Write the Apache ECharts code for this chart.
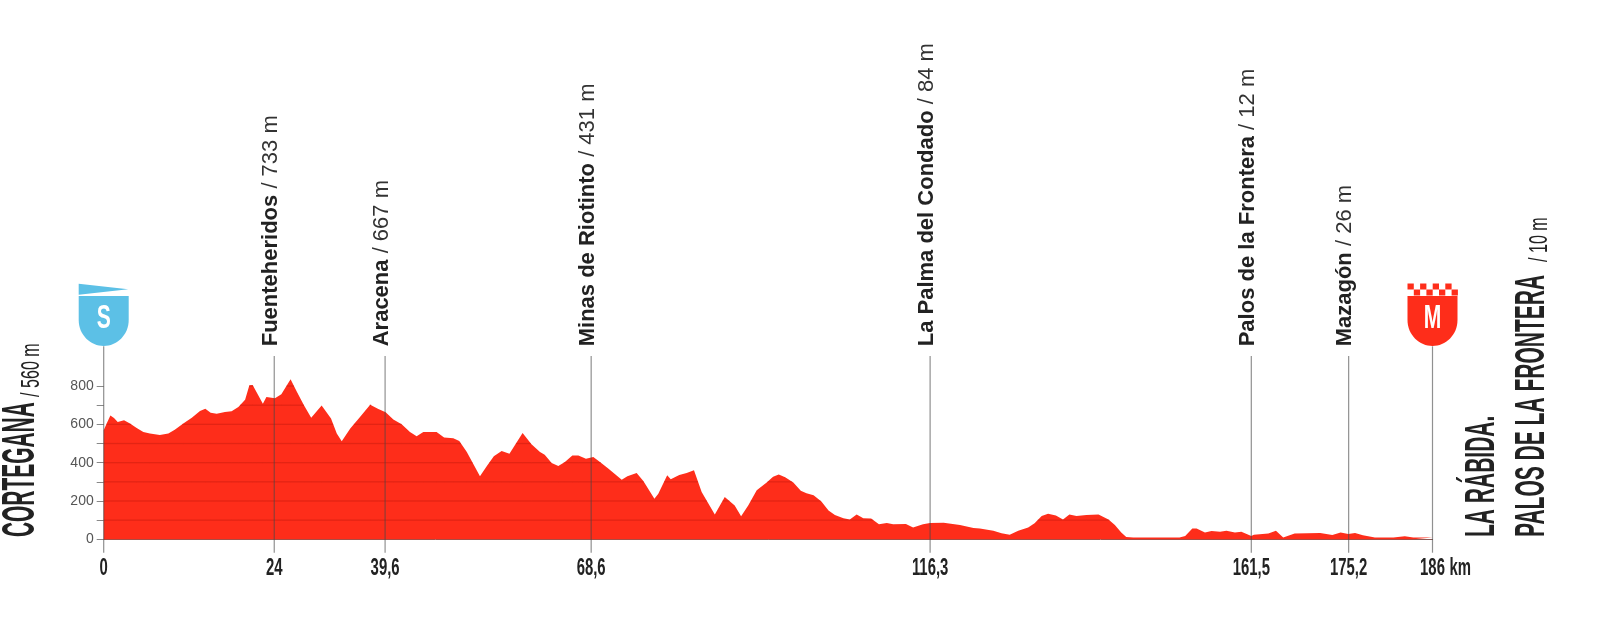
<!DOCTYPE html>
<html><head><meta charset="utf-8">
<style>html,body{margin:0;padding:0;background:#fff}#c{width:1600px;height:631px}</style>
<script src="https://cdn.jsdelivr.net/npm/echarts@6/dist/echarts.min.js"></script>
</head><body><div id="c"></div>
<script>
const profileKm=[0,.42,.94,1.45,1.97,2.86,3.7,4.64,5.58,6.5,7.9,9.1,10,11.2,12.4,13.55,14.3,15.05,15.9,17.07,18,18.95,19.9,20.5,20.96,21.5,22.4,22.9,24.1,25,26.3,27.2,28.2,29.2,30.67,31.99,32.8,33.5,34.7,36.07,37.5,38.65,39.68,40.76,41.93,43.1,44.04,44.98,46.85,47.9,49.2,50.04,51.1,52.95,53.9,54.9,56,57.1,58.95,60.2,61.4,62.06,63.04,63.98,64.9,65.95,66.8,67.87,68.9,69.84,71,72.9,73.7,75,75.94,77.5,78.05,79.3,79.8,81,82.04,83.07,84.15,86,87.4,88.8,89.7,90.7,91.9,93.3,94.2,95,95.9,97.05,98.1,98.9,99.9,101,102,102.9,104.1,105,105.96,106.9,108,109.1,110.2,111.1,112.9,113.9,115.3,116.3,118.2,120.5,122.4,123.3,125.2,126.35,127.5,128.7,130.1,131,132,132.9,134,135,135.9,136.9,138.3,140,141.4,142.3,143.2,143.9,144.9,151.4,152.2,153.2,153.8,154.98,155.9,157.1,158,159.2,160.1,161.5,161.87,163.9,164.97,165.99,167.6,171.2,172.9,174.07,175.15,176.1,177.2,178.9,181.5,183.1,184.3,187];
const profileElev=[569,604,646,633,612,621,604,581,560,552,545,552,572,604,635,670,682,661,656,665,668,691,729,804,806,769,708,743,736,757,835,769,699,635,699,630,552,512,578,639,703,680,663,625,600,560,538,560,560,531,527,513,456,329,381,433,461,447,555,496,456,442,398,383,404,438,438,421,430,404,369,311,329,346,304,212,238,334,313,336,346,360,247,130,221,177,120,177,256,296,327,338,324,296,254,240,230,197,150,127,110,104,129,110,108,78,85,78,80,61,78,85,87,75,59,57,45,31,24,45,61,84,122,134,124,104,129,122,127,129,104,75,35,12,9,9,17,57,57,35,43,40,45,35,40,17,24,30,45,10,30,33,23,35,28,33,21,9,9,16,10,9];
const tickKm=[0,24,39.6,68.6,116.3,161.5,175.2,187];
const tickLabels=['0','24','39,6','68,6','116,3','161,5','175,2','186'];
const distanceUnit='km';
const placeNames=['Fuenteheridos','Aracena','Minas de Riotinto','La Palma del Condado','Palos de la Frontera','Mazagón'];
const placeHeights=['733 m','667 m','431 m','84 m','12 m','26 m'];
const placeKm=[24,39.6,68.6,116.3,161.5,175.2];
const yTicks=[0,100,200,300,400,500,600,700,800];
const yLabels=[0,200,400,600,800];
const bandLevels=[100,200,300,400,500,600,700,800];
const startName='CORTEGANA', startHeight='/ 560 m';
const finishLine1='LA RÁBIDA.', finishLine2='PALOS DE LA FRONTERA', finishHeight='/ 10 m';
const startLetter='S', finishLetter='M';

const RED='#fe2d1a', BLUE='#5cc0e6', INK='#222222';
const profile=profileKm.map((k,i)=>[k,profileElev[i]]);
const FF='"Liberation Sans",Arial,sans-serif';

function bandsRender(params,api){
  const kids=[];
  bandLevels.forEach(L=>{
    for(let i=0;i<profile.length-1;i++){
      const a=profile[i],b=profile[i+1];
      if(a[1]<L&&b[1]<L)continue;
      let ka=a[0],kb=b[0];
      if(a[1]<L)ka=a[0]+(L-a[1])/(b[1]-a[1])*(b[0]-a[0]);
      if(b[1]<L)kb=a[0]+(L-a[1])/(b[1]-a[1])*(b[0]-a[0]);
      const p=api.coord([ka,L]),q=api.coord([kb,L]);
      kids.push({type:'line',shape:{x1:p[0],y1:p[1],x2:q[0],y2:q[1]},style:{stroke:'rgba(170,20,10,.32)',lineWidth:1.3}});
    }
  });
  return {type:'group',children:kids,silent:true};
}
function poleRender(params,api){
  const k=api.value(0),isEnd=api.value(1)===1;
  const p=api.coord([k,0]);
  return {type:'line',shape:{x1:p[0],y1:p[1]+(isEnd?-193:-183.3),x2:p[0],y2:p[1]+13.4},
    style:{stroke:'rgba(70,70,70,.6)',lineWidth:1.2},silent:true};
}
function tickLabelRender(params,api){
  const i=params.dataIndex,p=api.coord([tickKm[i],0]);
  const kids=[{type:'text',x:p[0],y:p[1]+29.5,scaleX:.62,style:{text:tickLabels[i],font:'bold 24px '+FF,fill:INK,align:'center',verticalAlign:'middle'}}];
  if(i===tickKm.length-1)kids.push({type:'text',x:p[0]+17,y:p[1]+29.5,scaleX:.62,style:{text:distanceUnit,font:'bold 24px '+FF,fill:INK,align:'left',verticalAlign:'middle'}});
  return {type:'group',children:kids,silent:true};
}
function placeRender(params,api){
  const i=params.dataIndex,p=api.coord([placeKm[i],0]);
  return {type:'text',x:p[0]-3.5,y:p[1]-193,rotation:Math.PI/2,silent:true,
    style:{text:'{n|'+placeNames[i]+'}{h| / '+placeHeights[i]+'}',align:'left',verticalAlign:'middle',fill:INK,
      rich:{n:{font:'bold 22px '+FF,fill:INK},h:{font:'22px '+FF,fill:'#333'}}}};
}
const SHIELD='M0 0H50V24C50 39 38 50 25 50C12 50 0 39 0 24Z';
function shieldRender(params,api){
  const isEnd=api.value(1)===1,p=api.coord([api.value(0),0]);
  const cx=p[0],y=p[1];
  const col=isEnd?RED:BLUE;
  const kids=[{type:'path',shape:{pathData:SHIELD,x:cx-25,y:y-243.3,width:50,height:50,layout:'cover'},style:{fill:col}}];
  if(!isEnd){
    kids.push({type:'polygon',shape:{points:[[cx-25,y-255.6],[cx+24.5,y-250],[cx-25,y-244.5]]},style:{fill:col}});
  }else{
    for(let j=0;j<8;j++){
      kids.push({type:'rect',shape:{x:cx-25+j*6.3,y:y-(j%2?249.8:255.8),width:6.3,height:6},style:{fill:col}});
    }
  }
  kids.push({type:'text',x:cx,y:y-220.5,scaleX:.62,style:{text:isEnd?finishLetter:startLetter,font:'bold 34px '+FF,fill:'#fff',align:'center',verticalAlign:'middle'}});
  return {type:'group',children:kids,silent:true};
}
function vtext(text,x,y,size,sx,weight,fill){
  return {type:'text',x:x,y:y,rotation:Math.PI/2,scaleX:sx,silent:true,
    style:{text:text,font:(weight?weight+' ':'')+size+'px '+FF,fill:fill||INK,align:'left',verticalAlign:'bottom'}};
}
const chart=echarts.init(document.getElementById('c'),null,{renderer:'canvas'});
chart.setOption({
  animation:false,
  backgroundColor:'#fff',
  grid:{left:103.7,right:167.5,top:366.9,bottom:91.7,containLabel:false},
  xAxis:{type:'value',min:0,max:187,splitLine:{show:false},axisTick:{show:false},axisLabel:{show:false},
    axisLine:{show:true,lineStyle:{color:'#8a5a55',width:1}}},
  yAxis:{type:'value',min:0,max:900,interval:100,splitLine:{show:false},
    axisLine:{show:false},
    axisTick:{show:true,length:7,customValues:yTicks,lineStyle:{color:'#888',width:1}},
    axisLabel:{show:true,customValues:yLabels,margin:10,fontFamily:FF,fontSize:14,color:'#555'}},
  graphic:{elements:[
    vtext(startName,45,537,47,.445,'bold'),
    vtext(startHeight,45,397,26,.62,''),
    vtext(finishLine1,1503,537,42,.5,'bold'),
    vtext(finishLine2,1553,537,42,.5,'bold'),
    vtext(finishHeight,1553,262,26,.62,'')
  ]},
  series:[
    {type:'line',data:profile,showSymbol:false,smooth:false,lineStyle:{width:0},areaStyle:{color:RED,opacity:1},clip:false,silent:true,z:2},
    {type:'custom',data:[[0,0]],renderItem:bandsRender,z:3,silent:true},
    {type:'custom',data:tickKm.map((k,i)=>[k,(i===0||i===tickKm.length-1)?1:0]),renderItem:poleRender,z:4,silent:true},
    {type:'custom',data:tickKm.map(k=>[k,0]),renderItem:tickLabelRender,z:5,silent:true},
    {type:'custom',data:placeKm.map(k=>[k,0]),renderItem:placeRender,z:5,silent:true},
    {type:'custom',data:[[0,0],[187,1]],renderItem:shieldRender,z:5,silent:true}
  ]
});
</script></body></html>
